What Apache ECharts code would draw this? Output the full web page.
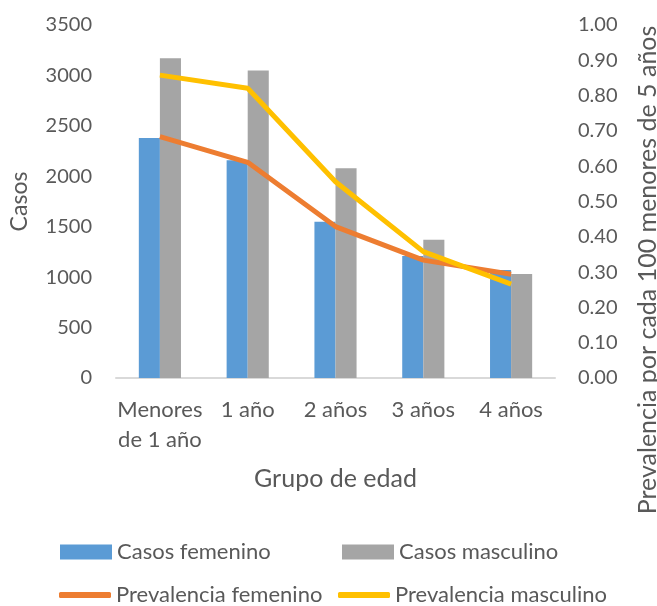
<!DOCTYPE html>
<html>
<head>
<meta charset="utf-8">
<script src="https://cdn.jsdelivr.net/npm/echarts@6/dist/echarts.min.js"></script>
<style>
  html, body { margin: 0; padding: 0; background: #fff; }
  #chart { width: 657px; height: 606px; }
</style>
</head>
<body>
<div id="chart"></div>
<script>
// grupos de edad
const categorias = ['Menores\nde 1 año', '1 año', '2 años', '3 años', '4 años'];
// casos (eje izquierdo)
const casosFemenino = [2380, 2160, 1550, 1210, 1070];
const casosMasculino = [3170, 3050, 2080, 1370, 1030];
// prevalencia (eje derecho)
const prevFemenino = [0.684, 0.611, 0.429, 0.334, 0.294];
const prevMasculino = [0.858, 0.821, 0.556, 0.358, 0.266];

const fuente = 'Lato';
const gris = '#595959';

const chart = echarts.init(document.getElementById('chart'));

// una leyenda por elemento, para colocarlas como en la figura
function leyenda (nombre, left, top, esLinea) {
  return {
    data: [nombre],
    left: left, top: top,
    icon: esLinea ? 'roundRect' : 'rect',
    itemWidth: esLinea ? 52 : 52,
    itemHeight: esLinea ? 6 : 15,
    itemGap: 0,
    textStyle: { color: gris, fontSize: 22, fontFamily: fuente }
  };
}

const option = {
  animation: false,
  textStyle: { fontFamily: fuente },
  grid: { left: 113, right: 102, top: 25, bottom: 228 },
  legend: [
    leyenda('Casos femenino', 55, 536, false),
    leyenda('Casos masculino', 337, 536, false),
    leyenda('Prevalencia femenino', 54, 579, true),
    leyenda('Prevalencia masculino', 333, 579, true)
  ],
  xAxis: {
    type: 'category',
    data: categorias,
    name: 'Grupo de edad',
    nameLocation: 'middle',
    nameGap: 88,
    nameTextStyle: { color: gris, fontSize: 25 },
    axisLine: { lineStyle: { color: '#D9D9D9', width: 2 } },
    axisTick: { show: false },
    axisLabel: { color: gris, fontSize: 22, lineHeight: 30, margin: 17, interval: 0 }
  },
  yAxis: [
    {
      type: 'value',
      min: 0, max: 3500, interval: 500,
      name: 'Casos',
      nameLocation: 'middle',
      nameGap: 85,
      nameTextStyle: { color: gris, fontSize: 23 },
      splitLine: { show: false },
      axisLabel: { color: gris, fontSize: 20, margin: 24, formatter: v => String(v) }
    },
    {
      type: 'value',
      min: 0, max: 1, interval: 0.1,
      splitLine: { show: false },
      axisLabel: {
        color: gris, fontSize: 20, margin: 23,
        formatter: v => v.toFixed(2)
      }
    }
  ],
  graphic: [
    {
      type: 'text',
      x: 648, y: 270,
      rotation: Math.PI / 2,
      style: {
        text: 'Prevalencia por cada 100 menores de 5 años',
        fill: gris,
        font: '25px ' + fuente,
        align: 'center',
        verticalAlign: 'middle'
      }
    }
  ],
  series: [
    {
      name: 'Casos femenino',
      type: 'bar',
      data: casosFemenino,
      barGap: '0%',
      barCategoryGap: '52%',
      itemStyle: { color: '#5B9BD5' }
    },
    {
      name: 'Casos masculino',
      type: 'bar',
      data: casosMasculino,
      itemStyle: { color: '#A5A5A5' }
    },
    {
      name: 'Prevalencia femenino',
      type: 'line',
      yAxisIndex: 1,
      data: prevFemenino,
      symbol: 'none',
      lineStyle: { color: '#ED7D31', width: 5 },
      itemStyle: { color: '#ED7D31' }
    },
    {
      name: 'Prevalencia masculino',
      type: 'line',
      yAxisIndex: 1,
      data: prevMasculino,
      symbol: 'none',
      lineStyle: { color: '#FFC000', width: 5 },
      itemStyle: { color: '#FFC000' }
    }
  ]
};

chart.setOption(option);
</script>
</body>
</html>
